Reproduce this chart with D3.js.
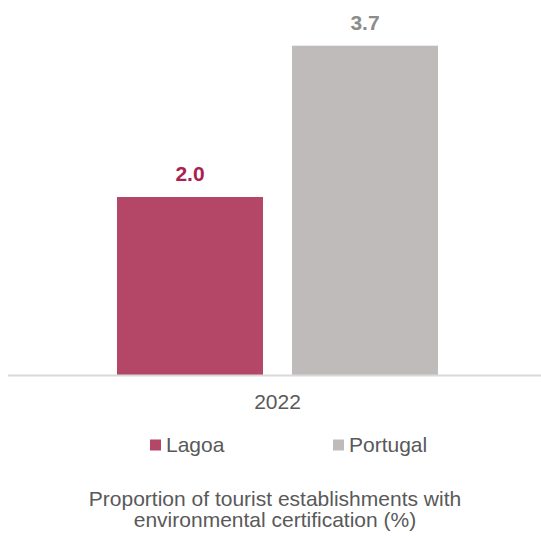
<!DOCTYPE html>
<html><head><meta charset="utf-8">
<script src="https://cdn.jsdelivr.net/npm/d3@7"></script>
<style>body{margin:0;background:#fff;}svg{display:block;font-family:"Liberation Sans",Arial,sans-serif;}</style>
</head><body>
<script>
const categories = ["2022"];
const seriesNames = ["Lagoa", "Portugal"];
const lagoaValues = [2.0];
const portugalValues = [3.7];
const seriesColors = ["#b44767", "#bfbbbb"];
const labelColors = ["#a8234c", "#8c8c8c"];
const titleLines = ["Proportion of tourist establishments with", "environmental certification (%)"];

const W = 541, H = 536;
const svg = d3.select("body").append("svg").attr("width", W).attr("height", H);

const x0 = d3.scaleBand().domain(categories).range([14, 541]).paddingInner(0).paddingOuter(0);
const x1 = d3.scaleBand().domain(seriesNames).range([117, 438]).paddingInner(0.1657).paddingOuter(0);
const y = d3.scaleLinear().domain([0, 4]).range([375, 19]);

const data = categories.map((c, i) => ({cat: c, vals: [lagoaValues[i], portugalValues[i]]}));

const g = svg.append("g");
data.forEach(d => {
  d.vals.forEach((v, j) => {
    const bx = x1(seriesNames[j]);
    g.append("rect")
      .attr("x", bx).attr("y", y(v))
      .attr("width", x1.bandwidth()).attr("height", y(0) - y(v))
      .attr("fill", seriesColors[j]);
    g.append("text")
      .attr("x", bx + x1.bandwidth() / 2).attr("y", y(v) - 16)
      .attr("text-anchor", "middle")
      .attr("font-size", 21).attr("font-weight", "bold")
      .attr("fill", labelColors[j])
      .text(v.toFixed(1));
  });
});

// axis
const axis = d3.axisBottom(x0).tickSize(0);
const ax = svg.append("g").attr("transform", `translate(0,${y(0)})`).call(axis);
ax.select(".domain").attr("stroke", "#d9d9d9").attr("stroke-width", 2).attr("d", "M8,0.5H541");
ax.selectAll("text").attr("font-size", 21).attr("fill", "#595959")
  .attr("y", 34).attr("dy", null)
  .attr("font-family", "Liberation Sans, Arial, sans-serif");

// legend
const legendX = [150, 333];
const lg = svg.append("g");
seriesNames.forEach((n, j) => {
  lg.append("rect").attr("x", legendX[j]).attr("y", 439.5).attr("width", 11).attr("height", 11).attr("fill", seriesColors[j]);
  lg.append("text").attr("x", legendX[j] + 16).attr("y", 452).attr("font-size", 21).attr("fill", "#595959").text(n);
});

// title
svg.append("g").selectAll("text").data(titleLines).join("text")
  .attr("x", 275).attr("y", (d, i) => 506 + i * 21)
  .attr("text-anchor", "middle").attr("font-size", 21).attr("fill", "#595959")
  .text(d => d);
</script>
</body></html>
